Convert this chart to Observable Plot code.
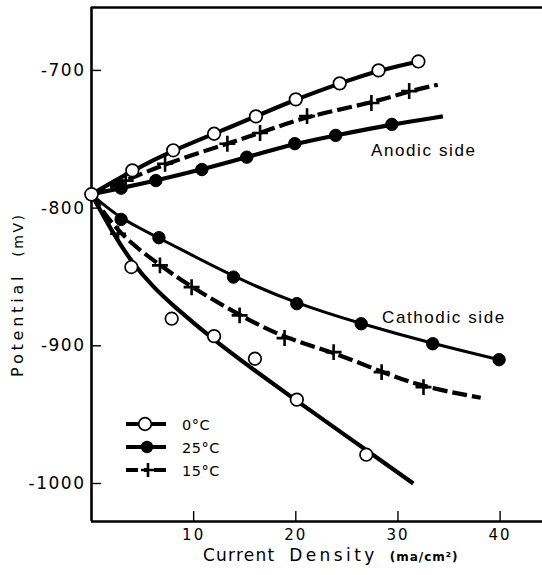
<!DOCTYPE html>
<html><head><meta charset="utf-8">
<script src="https://cdn.jsdelivr.net/npm/d3@7"></script>
<script src="https://cdn.jsdelivr.net/npm/@observablehq/plot@0.6"></script>
<style>
body{margin:0;background:#fff;}
#chart{position:relative;width:542px;height:575px;overflow:hidden;}
svg{font-family:"DejaVu Sans",sans-serif;}
</style></head><body><div id="chart"></div>
<script>
// ---- axes ----
const xTicks = [10, 20, 30, 40];
const yTicks = [-700, -800, -900, -1000];
const xDomain = [0, 44.15];
const yDomain = [-1027.6, -654.3];

// ---- common starting point (0 current) ----
const originX = [0];
const originY = [-790];

// ---- anodic side ----
const anodic0X = [4, 8, 12, 16.1, 20, 24.3, 28.1, 32];
const anodic0Y = [-772.6, -758, -746, -733.4, -721, -709.4, -700, -693.5];

const anodic25X = [2.9, 6.3, 10.8, 15.2, 19.9, 23.9, 29.4];
const anodic25Y = [-785.5, -780, -772, -763, -753.2, -747.2, -739.2];
const anodic25EndX = [34.4];
const anodic25EndY = [-733.4];

const anodic15X = [3.35, 7.2, 13.3, 16.5, 21.1, 27.4, 31.1];
const anodic15Y = [-780, -767.8, -753.2, -745.5, -733.2, -723.7, -715];
const anodic15EndX = [33.9];
const anodic15EndY = [-710.4];

// ---- cathodic side ----
const cathodic25X = [2.9, 6.6, 13.9, 20.1, 26.4, 33.4, 39.9];
const cathodic25Y = [-808.2, -821.5, -850.1, -869.4, -884, -898.5, -910.1];

const cathodic15X = [2.6, 6.7, 9.8, 14.5, 18.9, 23.7, 28.4, 32.5];
const cathodic15Y = [-818.6, -841.6, -857.4, -877.9, -894.4, -904.6, -919.1, -930];
const cathodic15EndX = [38.1];
const cathodic15EndY = [-937.7];

const cathodic0X = [3.9, 7.85, 12, 16, 20.1, 26.9];
const cathodic0Y = [-842.8, -880.3, -893, -909.4, -939.1, -979.1];
// drawn curve for 0°C cathodic (a fitted curve, points scatter about it)
const cathodic0CurveX = [0, 2, 4, 6, 8, 12, 16, 20, 24, 28, 31.5];
const cathodic0CurveY = [-790, -817, -840, -857, -871, -896, -918, -939.5, -960.5, -981.5, -1000];

// ---- legend / labels ----
const legendLabels = ["0°C", "25°C", "15°C"];
const legendKinds = ["open", "filled", "plus"];
const sideLabels = ["Anodic side", "Cathodic side"];

// ---- build tables ----
const pts = (xs, ys) => xs.map((x, i) => ({x, y: ys[i]}));
const path = (xs, ys, ex = [], ey = []) =>
  [...pts(originX, originY), ...pts(xs, ys), ...pts(ex, ey)];

const lineA0 = path(anodic0X, anodic0Y);
const lineA25 = path(anodic25X, anodic25Y, anodic25EndX, anodic25EndY);
const lineA15 = path(anodic15X, anodic15Y, anodic15EndX, anodic15EndY);
const lineC25 = path(cathodic25X, cathodic25Y);
const lineC15 = path(cathodic15X, cathodic15Y, cathodic15EndX, cathodic15EndY);
const lineC0 = pts(cathodic0CurveX, cathodic0CurveY);

const openPts = [...pts(anodic0X, anodic0Y), ...pts(cathodic0X, cathodic0Y)];
const filledPts = [...pts(anodic25X, anodic25Y), ...pts(cathodic25X, cathodic25Y)];
const plusPts = [...pts(anodic15X, anodic15Y), ...pts(cathodic15X, cathodic15Y)];

const solid = {x: "x", y: "y", curve: "basis", stroke: "black", strokeWidth: 4.2, strokeLinecap: "butt"};
const dashed = {...solid, strokeDasharray: "15,5"};

const plot = Plot.plot({
  width: 542,
  height: 575,
  marginLeft: 91,
  marginRight: 0,
  marginTop: 7,
  marginBottom: 54,
  style: {background: "white", overflow: "hidden"},
  x: {domain: xDomain},
  y: {domain: yDomain},
  marks: [
    // frame lines
    Plot.ruleX([xDomain[0]], {stroke: "black", strokeWidth: 2.6}),
    Plot.ruleY([yDomain[0]], {stroke: "black", strokeWidth: 2.6}),
    Plot.ruleY([yDomain[1]], {stroke: "black", strokeWidth: 2.6}),
    // inward ticks
    Plot.ruleX(xTicks, {stroke: "black", strokeWidth: 1.4, insetTop: 504}),
    Plot.ruleY(yTicks, {stroke: "black", strokeWidth: 1.4, insetRight: 441}),
    Plot.axisX({ticks: xTicks, tickSize: 0, tickPadding: 8, label: null, fontSize: 15}),
    Plot.axisY({ticks: yTicks, tickSize: 0, tickPadding: 6, label: null, fontSize: 17, tickFormat: d => String(d)}),
    // curves
    Plot.line(lineA0, solid),
    Plot.line(lineA25, solid),
    Plot.line(lineA15, dashed),
    Plot.line(lineC25, {...solid, strokeWidth: 3}),
    Plot.line(lineC15, dashed),
    Plot.line(lineC0, solid),
    // markers
    Plot.dot(filledPts, {x: "x", y: "y", r: 6.2, fill: "black", stroke: "black", strokeWidth: 1}),
    Plot.dot(plusPts, {x: "x", y: "y", symbol: "plus", r: 5.2, stroke: "black", strokeWidth: 2.6}),
    Plot.dot(openPts, {x: "x", y: "y", r: 6.3, fill: "white", stroke: "black", strokeWidth: 1.7}),
    Plot.dot(pts(originX, originY), {x: "x", y: "y", r: 6.5, fill: "white", stroke: "black", strokeWidth: 1.7})
  ]
});

document.getElementById("chart").appendChild(plot);
const svg = d3.select(plot);

// tick label styling
svg.selectAll('g[aria-label="x-axis tick label"] text').attr("letter-spacing", "2");
svg.selectAll('g[aria-label="y-axis tick label"] text').attr("letter-spacing", "1.5");

// side labels
const side = svg.append("g").attr("text-anchor", "start")
  .attr("font-family", "Liberation Sans, sans-serif").attr("font-size", 17).attr("letter-spacing", "1.6");
side.append("text").attr("x", 371).attr("y", 156).text(sideLabels[0]);
side.append("text").attr("x", 382).attr("y", 323).text(sideLabels[1]);

// axis titles
const xt = svg.append("text").attr("text-anchor", "start").attr("x", 203).attr("y", 561).attr("font-size", 17);
xt.append("tspan").attr("letter-spacing", "1.2").text("Current");
xt.append("tspan").attr("dx", 14).attr("letter-spacing", "3.4").text("Density");
xt.append("tspan").attr("dx", 12).attr("font-size", 12).attr("font-weight", "bold").attr("letter-spacing", "1").text("(ma/cm²)");

const yt = svg.append("text").attr("text-anchor", "start").attr("transform", "translate(23,377) rotate(-90)").attr("font-size", 16);
yt.append("tspan").attr("letter-spacing", "3.8").text("Potential");
yt.append("tspan").attr("dx", 16).attr("font-size", 14).attr("letter-spacing", "2.5").text("(mV)");

// legend
const leg = svg.append("g").attr("text-anchor", "start");
const rowY = [424, 447, 470];
legendLabels.forEach((lab, i) => {
  const y = rowY[i];
  const kind = legendKinds[i];
  leg.append("line").attr("x1", 126).attr("x2", 166).attr("y1", y).attr("y2", y)
    .attr("stroke", "black").attr("stroke-width", 3.8)
    .attr("stroke-dasharray", kind === "plus" ? "12,6,4,6,12" : null);
  if (kind === "open") leg.append("circle").attr("cx", 145).attr("cy", y).attr("r", 6.3).attr("fill", "white").attr("stroke", "black").attr("stroke-width", 1.7);
  if (kind === "filled") leg.append("circle").attr("cx", 147).attr("cy", y).attr("r", 6.2).attr("fill", "black");
  if (kind === "plus") leg.append("path").attr("d", `M${141},${y}H${155}M${148},${y - 7}V${y + 7}`).attr("stroke", "black").attr("stroke-width", 2.6);
  leg.append("text").attr("x", 182).attr("y", y + 5.5).attr("font-size", 14.5).attr("letter-spacing", "0.5").text(lab);
});
</script></body></html>
